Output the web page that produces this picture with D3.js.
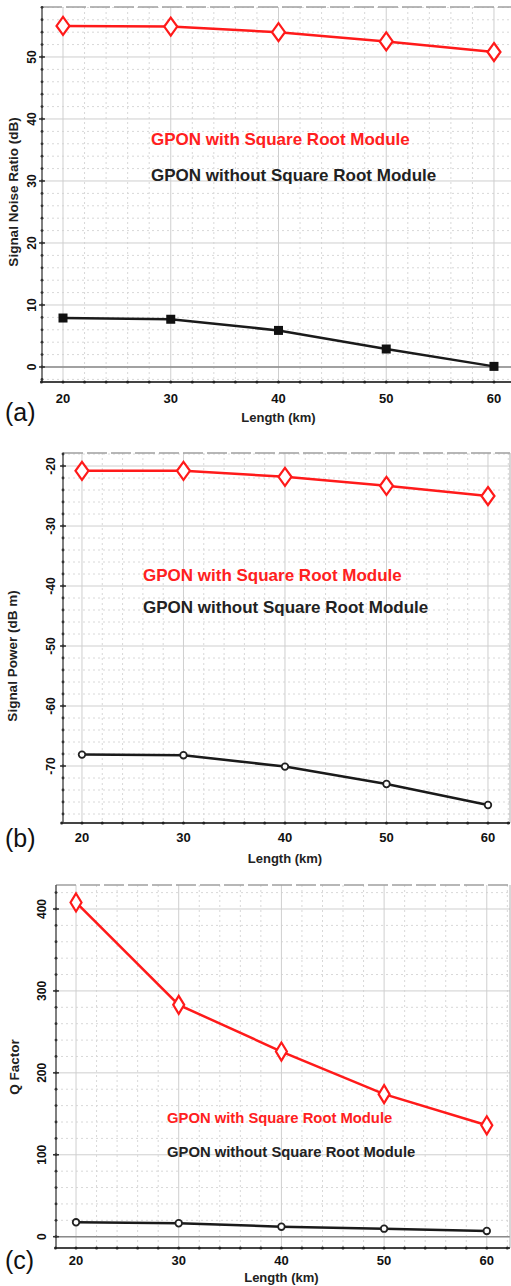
<!DOCTYPE html>
<html lang="en">
<head>
  <meta charset="UTF-8" />
  <title>GPON Square Root Module</title>
  <style>
    html, body { margin: 0; padding: 0; background: #fff; }
    svg { display: block; font-family: "Liberation Sans", Arial, sans-serif; }
  </style>
</head>
<body>
<script src="https://d3js.org/d3.v7.min.js"></script>
<script>
// data
const lengths = [20, 30, 40, 50, 60];
const snrWith = [55.0, 54.9, 54.0, 52.5, 50.8];
const snrWithout = [7.9, 7.7, 5.9, 2.9, 0.1];
const powerWith = [-20.8, -20.8, -21.8, -23.3, -25.0];
const powerWithout = [-68.1, -68.2, -70.1, -73.0, -76.5];
const qWith = [408, 283, 226, 174, 136];
const qWithout = [17.6, 16.4, 12.2, 9.8, 7.0];

const xTicks = [20, 30, 40, 50, 60];
const snrTicks = [0, 10, 20, 30, 40, 50];
const powerTicks = [-20, -30, -40, -50, -60, -70];
const qTicks = [0, 100, 200, 300, 400];

const labelWith = "GPON with Square Root Module";
const labelWithout = "GPON without Square Root Module";

const W = 511, H = 1286;

const panels = [
  {
    tag: "(a)", left: 42, right: 511, top: 7, bottom: 382,
    xDomain: [18.05, 61.58], yDomain: [-2.42, 58.06],
    yTicks: snrTicks, yMinor: 2, zero: true, rightBorder: false,
    with: snrWith, without: snrWithout, withoutMarker: "square",
    yTitle: "Signal Noise Ratio (dB)", yTitleX: 13, yTitleY: 192, yLabelX: 32,
    legendX: 151, legendY: [145, 181], legendSize: 17,
    xLabelY: 403, xTitleY: 422, tagY: 421, diamond: [6.5, 9]
  },
  {
    tag: "(b)", left: 63, right: 510, top: 453, bottom: 823,
    xDomain: [18.13, 62.17], yDomain: [-79.5, -17.83],
    yTicks: powerTicks, yMinor: 2, zero: false, rightBorder: true,
    with: powerWith, without: powerWithout, withoutMarker: "circle",
    yTitle: "Signal Power (dB m)", yTitleX: 12, yTitleY: 656, yLabelX: 51,
    legendX: 143, legendY: [581, 613], legendSize: 17,
    xLabelY: 842, xTitleY: 863, tagY: 847, diamond: [6.5, 9]
  },
  {
    tag: "(c)", left: 56, right: 510, top: 885, bottom: 1248,
    xDomain: [18.05, 62.26], yDomain: [-13.8, 429.3],
    yTicks: qTicks, yMinor: 20, zero: true, rightBorder: true,
    with: qWith, without: qWithout, withoutMarker: "circle",
    yTitle: "Q Factor", yTitleX: 14, yTitleY: 1067, yLabelX: 42,
    legendX: 167, legendY: [1123, 1157], legendSize: 14.8,
    xLabelY: 1265, xTitleY: 1282, tagY: 1269, diamond: [5.5, 9]
  }
];

const svg = d3.select("body").append("svg")
  .attr("width", W)
  .attr("height", H)
  .attr("viewBox", [0, 0, W, H]);

panels.forEach((p, i) => {
  const x = d3.scaleLinear().domain(p.xDomain).range([p.left, p.right]);
  const y = d3.scaleLinear().domain(p.yDomain).range([p.bottom, p.top]);
  const g = svg.append("g");

  g.append("clipPath").attr("id", "clip" + i)
    .append("rect")
    .attr("x", p.left).attr("y", p.top)
    .attr("width", p.right - p.left).attr("height", p.bottom - p.top);

  const plot = g.append("g").attr("clip-path", `url(#clip${i})`);

  // minor grid
  const xMinor = d3.range(18, 63, 2).filter(v => !xTicks.includes(v));
  const yMinorVals = d3.range(Math.ceil(p.yDomain[0] / p.yMinor) * p.yMinor, p.yDomain[1], p.yMinor)
    .filter(v => !p.yTicks.includes(v));

  plot.append("g")
    .attr("stroke", "#d8d8d8").attr("stroke-width", 1).attr("stroke-dasharray", "2,3")
    .call(s => s.selectAll("line.vx").data(xMinor).join("line")
      .attr("x1", d => x(d)).attr("x2", d => x(d))
      .attr("y1", p.top).attr("y2", p.bottom))
    .call(s => s.selectAll("line.hy").data(yMinorVals).join("line")
      .attr("x1", p.left).attr("x2", p.right)
      .attr("y1", d => y(d)).attr("y2", d => y(d)));

  // major grid
  plot.append("g")
    .attr("stroke", "#cfcfcf").attr("stroke-width", 1)
    .call(s => s.selectAll("line.vx").data(xTicks).join("line")
      .attr("x1", d => x(d)).attr("x2", d => x(d))
      .attr("y1", p.top).attr("y2", p.bottom))
    .call(s => s.selectAll("line.hy").data(p.yTicks).join("line")
      .attr("x1", p.left).attr("x2", p.right)
      .attr("y1", d => y(d)).attr("y2", d => y(d)));

  if (p.zero) {
    plot.append("line")
      .attr("x1", p.left).attr("x2", p.right)
      .attr("y1", y(0)).attr("y2", y(0))
      .attr("stroke", "#8a8a8a").attr("stroke-width", 1.5);
  }

  // top dashed border
  g.append("line")
    .attr("x1", p.left).attr("x2", p.right)
    .attr("y1", p.top).attr("y2", p.top)
    .attr("stroke", "#a0a0a0").attr("stroke-width", 1.5)
    .attr("stroke-dasharray", "20,4");

  if (p.rightBorder) {
    g.append("line")
      .attr("x1", p.right).attr("x2", p.right)
      .attr("y1", p.top).attr("y2", p.bottom)
      .attr("stroke", "#b0b0b0").attr("stroke-width", 1);
  }

  // left axis with dotted ticks
  g.append("line")
    .attr("x1", p.left).attr("x2", p.left)
    .attr("y1", p.top).attr("y2", p.bottom)
    .attr("stroke", "#555").attr("stroke-width", 1.5);
  g.append("g").attr("fill", "#333")
    .selectAll("circle").data(yMinorVals.concat(p.yTicks)).join("circle")
    .attr("cx", p.left).attr("cy", d => y(d)).attr("r", 1.4);
  g.append("g").attr("stroke", "#333").attr("stroke-width", 1.5)
    .selectAll("line").data(p.yTicks).join("line")
    .attr("x1", p.left - 3).attr("x2", p.left + 3)
    .attr("y1", d => y(d)).attr("y2", d => y(d));

  // bottom axis
  g.append("line")
    .attr("x1", p.left).attr("x2", p.right)
    .attr("y1", p.bottom).attr("y2", p.bottom)
    .attr("stroke", "#444").attr("stroke-width", 2);
  g.append("g").attr("fill", "#222")
    .selectAll("circle").data(xMinor.concat(xTicks)).join("circle")
    .attr("cx", d => x(d)).attr("cy", p.bottom).attr("r", 1.5);

  // y tick labels, rotated
  g.append("g")
    .attr("font-size", 12).attr("font-weight", "bold").attr("fill", "#111")
    .attr("text-anchor", "middle")
    .selectAll("text").data(p.yTicks).join("text")
    .attr("transform", d => `translate(${p.yLabelX},${y(d)}) rotate(-90)`)
    .attr("dy", "0.35em")
    .text(d => d);

  // x tick labels
  g.append("g")
    .attr("font-size", 13).attr("font-weight", "bold").attr("fill", "#111")
    .attr("text-anchor", "middle")
    .selectAll("text").data(xTicks).join("text")
    .attr("x", d => x(d)).attr("y", p.xLabelY)
    .text(d => d);

  g.append("text")
    .attr("x", (x(20) + x(60)) / 2).attr("y", p.xTitleY)
    .attr("text-anchor", "middle")
    .attr("font-size", 13).attr("font-weight", "bold").attr("fill", "#222")
    .text("Length (km)");

  g.append("text")
    .attr("transform", `translate(${p.yTitleX},${p.yTitleY}) rotate(-90)`)
    .attr("dy", "0.35em")
    .attr("text-anchor", "middle")
    .attr("font-size", 13.5).attr("font-weight", "bold").attr("fill", "#222")
    .text(p.yTitle);

  g.append("text")
    .attr("x", 5).attr("y", p.tagY)
    .attr("font-size", 25).attr("fill", "#111")
    .text(p.tag);

  // legend texts
  g.append("text")
    .attr("x", p.legendX).attr("y", p.legendY[0])
    .attr("font-size", p.legendSize).attr("font-weight", "bold").attr("fill", "#ff2020")
    .text(labelWith);
  g.append("text")
    .attr("x", p.legendX).attr("y", p.legendY[1])
    .attr("font-size", p.legendSize).attr("font-weight", "bold").attr("fill", "#222")
    .text(labelWithout);

  // series
  const line = d3.line().x(d => x(d[0])).y(d => y(d[1]));
  const withPts = d3.zip(lengths, p.with);
  const withoutPts = d3.zip(lengths, p.without);

  plot.append("path").datum(withoutPts)
    .attr("d", line).attr("fill", "none")
    .attr("stroke", "#1a1a1a").attr("stroke-width", 2.5);
  plot.append("path").datum(withPts)
    .attr("d", line).attr("fill", "none")
    .attr("stroke", "#ff1a1a").attr("stroke-width", 2.5);

  const [dw, dh] = p.diamond;
  g.append("g").selectAll("path").data(withPts).join("path")
    .attr("d", d => {
      const cx = x(d[0]), cy = y(d[1]);
      return `M${cx},${cy - dh}L${cx + dw},${cy}L${cx},${cy + dh}L${cx - dw},${cy}Z`;
    })
    .attr("fill", "#fff").attr("stroke", "#ff1a1a").attr("stroke-width", 2.2);

  if (p.withoutMarker === "square") {
    g.append("g").selectAll("rect").data(withoutPts).join("rect")
      .attr("x", d => x(d[0]) - 4.5).attr("y", d => y(d[1]) - 4.5)
      .attr("width", 9).attr("height", 9)
      .attr("fill", "#111");
  } else {
    g.append("g").selectAll("circle").data(withoutPts).join("circle")
      .attr("cx", d => x(d[0])).attr("cy", d => y(d[1])).attr("r", 3.3)
      .attr("fill", "#fff").attr("stroke", "#222").attr("stroke-width", 1.8);
  }
});
</script>
</body>
</html>
